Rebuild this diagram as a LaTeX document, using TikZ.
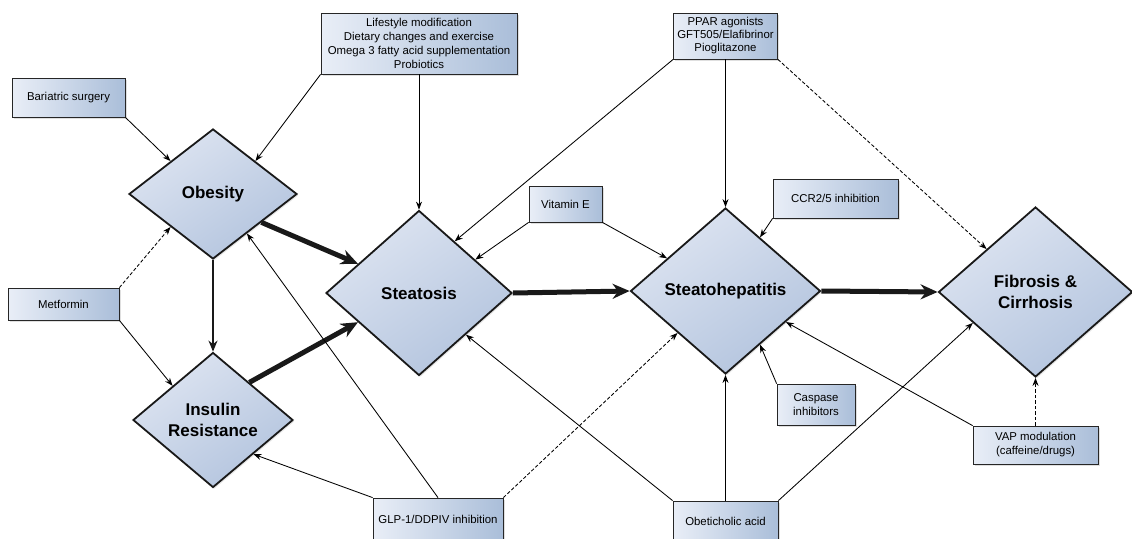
\documentclass[tikz,border=0pt]{standalone}
\usepackage{fontspec}
\setmainfont{Liberation Sans}
\usetikzlibrary{arrows.meta, shapes.geometric, shadows, calc}

\definecolor{boxlight}{HTML}{E9EEF7}
\definecolor{boxdark}{HTML}{AABED9}
\definecolor{stagelight}{HTML}{DDE4F1}
\definecolor{stagedark}{HTML}{B3C4DE}

\begin{document}
\begin{tikzpicture}[
    x=1pt, y=-1pt,
    every node/.style={font=\fontsize{11.4}{14}\selectfont},
    box/.style={
        rectangle,
        draw=black!85,
        line width=0.8pt,
        left color=boxlight,
        right color=boxdark,
        align=center,
        inner sep=0pt,
        drop shadow={opacity=0.25, shadow xshift=1.5pt, shadow yshift=-1.5pt}
    },
    stage/.style={
        diamond,
        draw=black!90,
        line width=1.8pt,
        top color=stagelight,
        bottom color=stagedark,
        shading angle=35,
        align=center,
        inner sep=0pt,
        font=\bfseries\fontsize{17}{20.5}\selectfont,
        drop shadow={opacity=0.2, shadow xshift=1.5pt, shadow yshift=-1.5pt}
    },
    arrow/.style={
        line width=0.85pt,
        -{Stealth[length=8pt, width=6pt]},
        draw=black
    },
    dasharrow/.style={
        arrow,
        dash pattern=on 3.5pt off 2pt
    },
    midarrow/.style={
        line width=2.8pt,
        -{Stealth[length=11pt, width=9pt]},
        draw=black!90
    },
    mainarrow/.style={
        line width=5pt,
        -{Stealth[length=17pt, width=15pt]},
        draw=black!90
    }
]

\clip (0,0) rectangle (1132,538);

% Disease stages
\node[stage, minimum width=168pt, minimum height=130pt] (obesity) at (213,194) {Obesity};
\node[stage, minimum width=160pt, minimum height=135pt] (insulin) at (213,420) {Insulin\\Resistance};
\node[stage, minimum width=186pt, minimum height=165pt] (steatosis) at (419,293) {Steatosis};
\node[stage, minimum width=190pt, minimum height=166pt] (nash) at (725.5,291) {Steatohepatitis};
\node[stage, minimum width=194pt, minimum height=170pt] (fibrosis) at (1035.5,292) {Fibrosis \&\\Cirrhosis};

% Treatments
\node[box, minimum width=113pt, minimum height=39pt] (bariatric) at (68.5,97.5) {Bariatric surgery};
\node[box, minimum width=196pt, minimum height=61pt] (lifestyle) at (419,43.5) {Lifestyle modification\\Dietary changes and exercise\\Omega 3 fatty acid supplementation\\Probiotics};
\node[box, minimum width=111pt, minimum height=32pt] (metformin) at (63.5,304) {Metformin};
\node[box, minimum width=130pt, minimum height=42pt] (glp) at (438,519) {GLP-1/DDPIV inhibition};
\node[box, minimum width=105pt, minimum height=40pt] (obeticholic) at (725.5,521) {Obeticholic acid};
\node[box, minimum width=73pt, minimum height=36pt] (vitamine) at (565.5,204) {Vitamin E};
\node[box, minimum width=104pt, minimum height=46pt] (ppar) at (725.5,36) {PPAR agonists\\[-1pt]GFT505/Elafibrinor\\[-1pt]Pioglitazone};
\node[box, minimum width=125pt, minimum height=39pt] (ccr) at (835.5,198.5) {CCR2/5 inhibition};
\node[box, minimum width=78pt, minimum height=41pt] (caspase) at (816,404.5) {Caspase\\inhibitors};
\node[box, minimum width=125pt, minimum height=38pt] (vap) at (1035.5,445) {VAP modulation\\(caffeine/drugs)};

% Main progression
\draw[mainarrow] ($(obesity.east)!0.43!(obesity.south)$) -- ($(steatosis.west)!0.35!(steatosis.north)$);
\draw[mainarrow] ($(insulin.north)!0.45!(insulin.east)$) -- ($(steatosis.west)!0.35!(steatosis.south)$);
\draw[midarrow] (obesity.south) -- (insulin.north);
\draw[mainarrow] (steatosis.east) -- (nash.west);
\draw[mainarrow] (nash.east) -- (fibrosis.west);

% Treatment effects
\draw[arrow] (bariatric.south east) -- (obesity.north west);
\draw[arrow] (lifestyle.south west) -- (obesity.north east);
\draw[arrow] (lifestyle.south) -- (steatosis.north);
\draw[arrow] (ppar.south west) -- ($(steatosis.north)!0.38!(steatosis.east)$);
\draw[arrow] (ppar.south) -- (nash.north);
\draw[dasharrow] (ppar.south east) -- (fibrosis.north west);
\draw[arrow] (vitamine.south west) -- ($(steatosis.north)!0.6!(steatosis.east)$);
\draw[arrow] (vitamine.south east) -- ($(nash.north)!0.61!(nash.west)$);
\draw[arrow] (ccr.south west) -- ($(nash.north)!0.36!(nash.east)$);
\draw[dasharrow] (metformin.north east) -- (obesity.south west);
\draw[arrow] (metformin.south east) -- (insulin.north west);
\draw[arrow] (glp.north) -- ($(obesity.east)!0.6!(obesity.south)$);
\draw[arrow] (glp.north west) -- (insulin.south east);
\draw[dasharrow] (glp.north east) -- (nash.south west);
\draw[arrow] (obeticholic.north west) -- (steatosis.south east);
\draw[arrow] (obeticholic.north) -- (nash.south);
\draw[arrow] (obeticholic.north east) -- ($(fibrosis.west)!0.36!(fibrosis.south)$);
\draw[arrow] (caspase.north west) -- ($(nash.east)!0.64!(nash.south)$);
\draw[arrow] (vap.north west) -- ($(nash.east)!0.37!(nash.south)$);
\draw[dasharrow] (vap.north) -- (fibrosis.south);

\end{tikzpicture}
\end{document}
